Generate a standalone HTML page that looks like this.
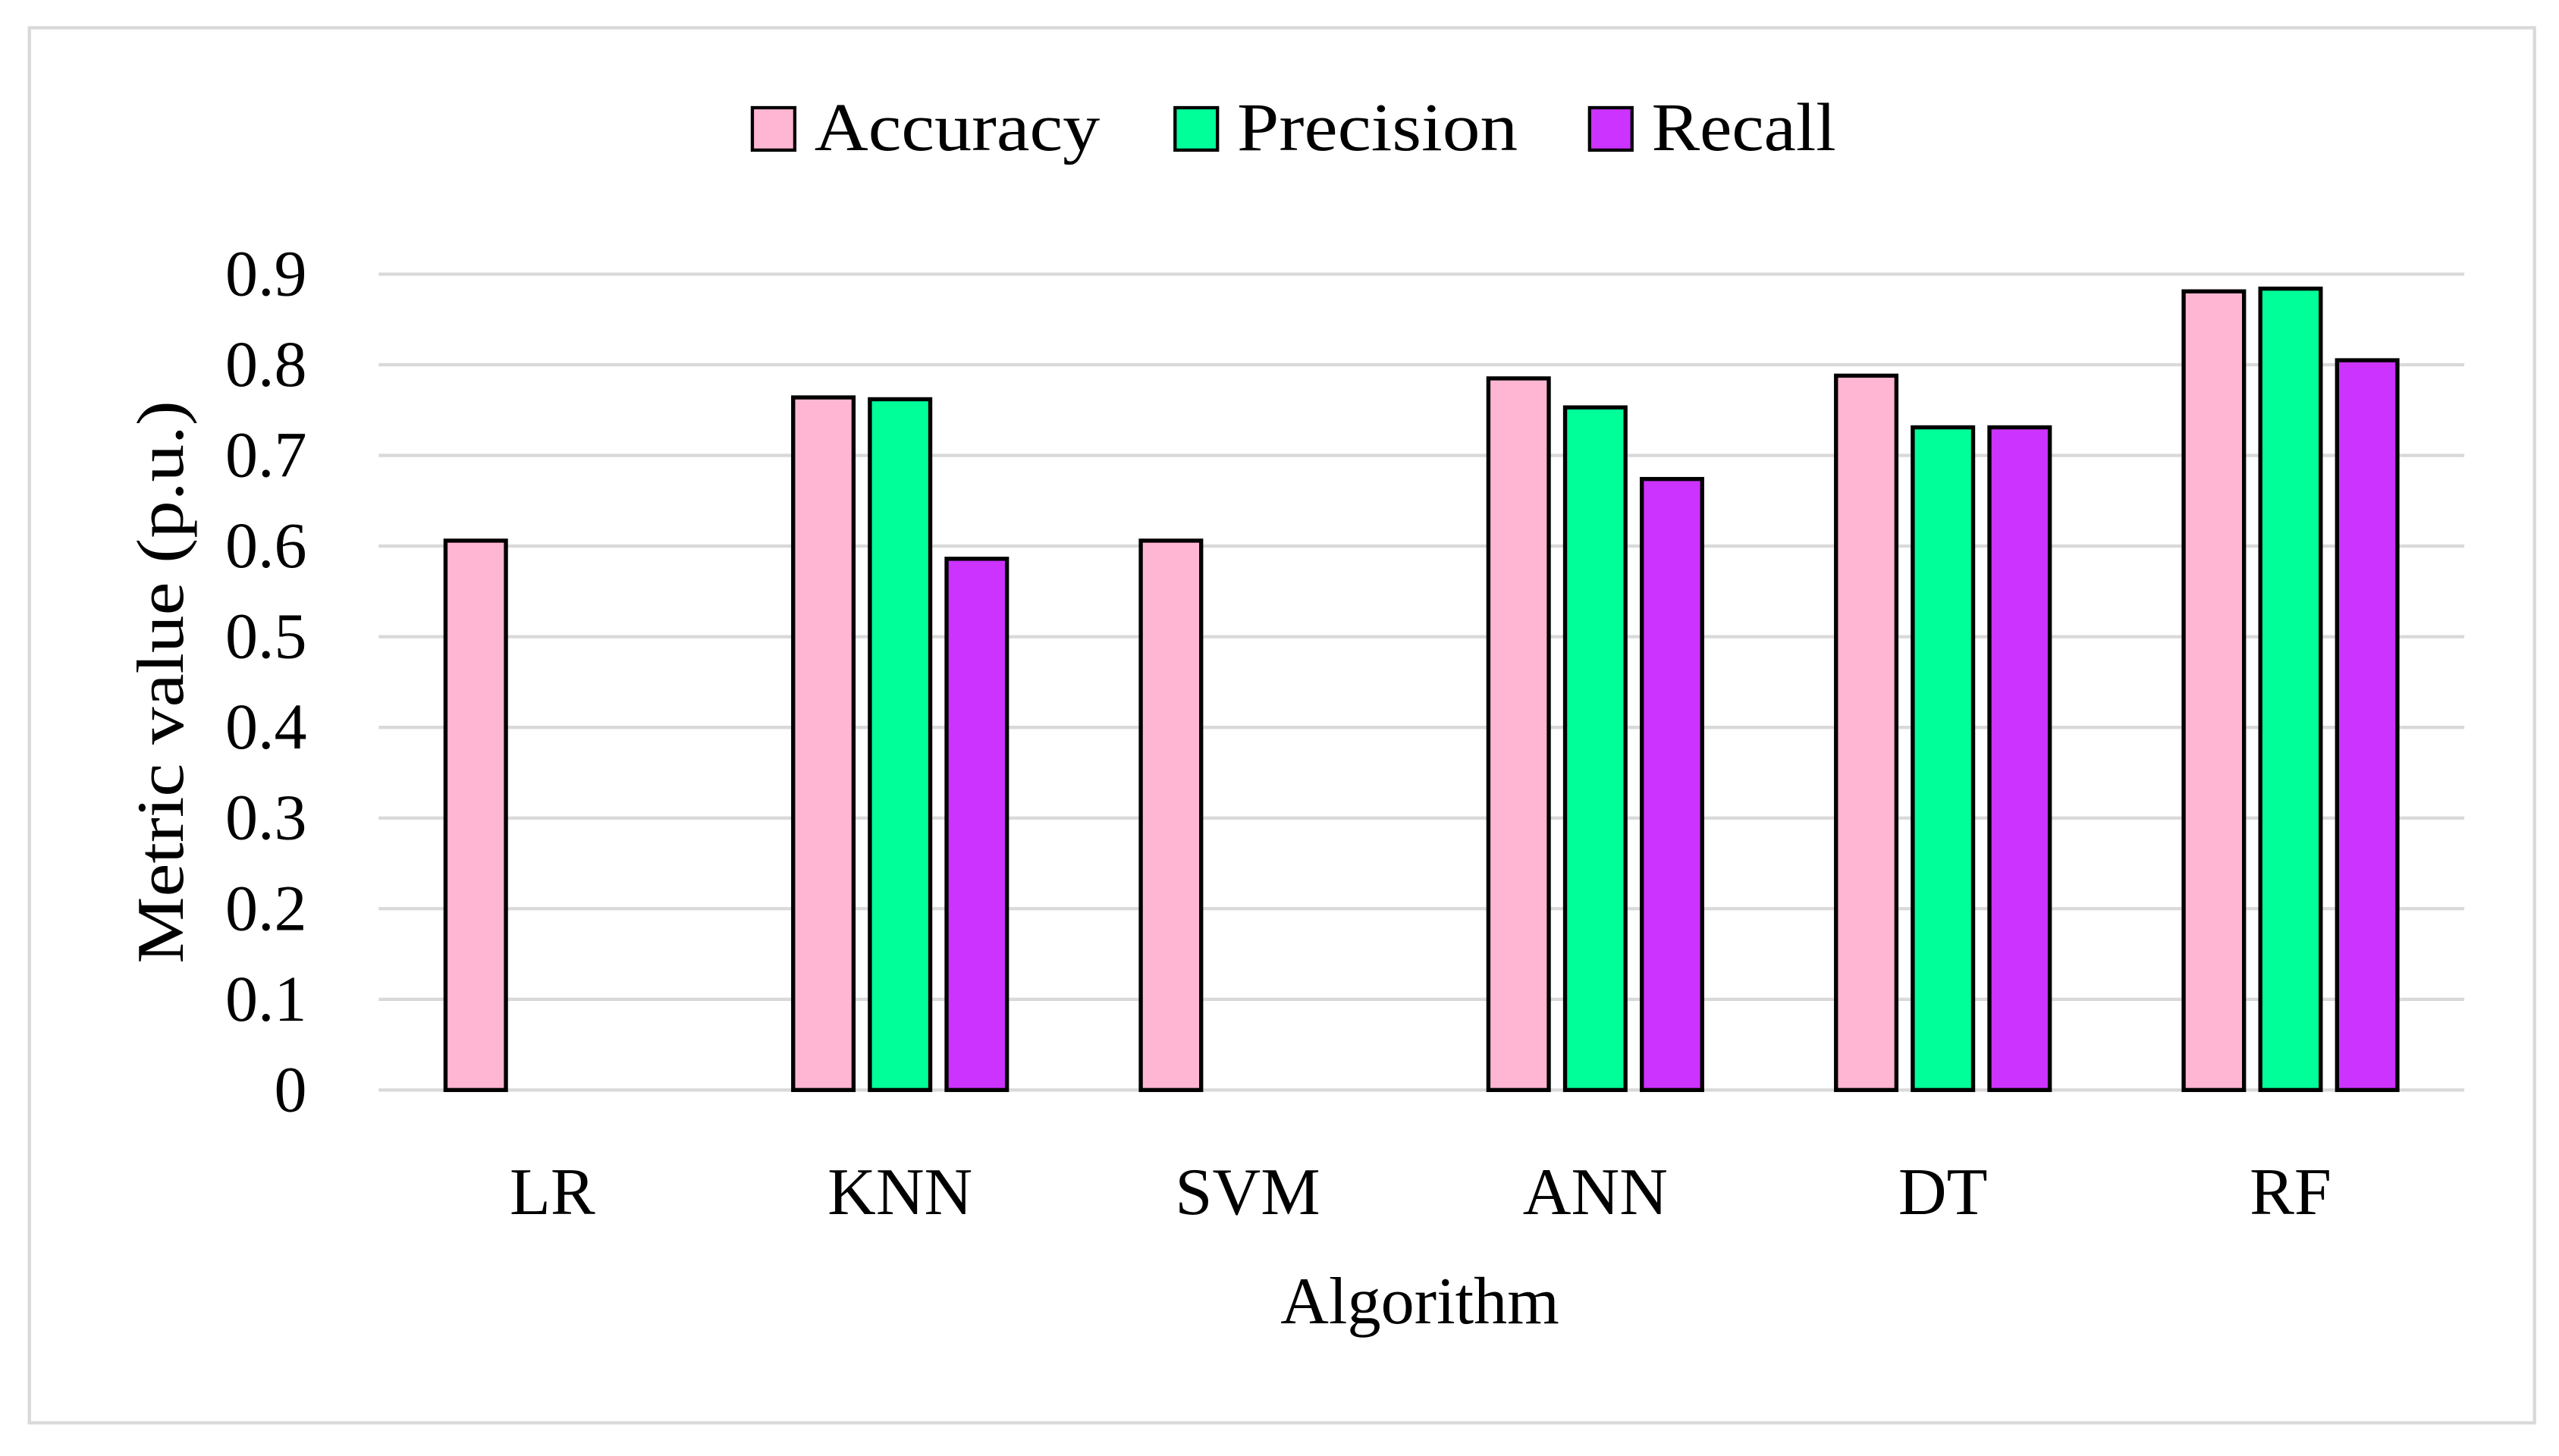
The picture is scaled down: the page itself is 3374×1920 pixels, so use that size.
<!DOCTYPE html>
<html><head><meta charset="utf-8"><style>
html,body{margin:0;padding:0;background:#fff;}
svg{display:block;}
text{font-family:"Liberation Serif",serif;fill:#000;}
</style></head><body>
<svg id="chart" width="3374" height="1920" viewBox="0 0 1568 892.3" preserveAspectRatio="none" xmlns="http://www.w3.org/2000/svg">
<rect x="18" y="17" width="1535" height="855" fill="#fff" stroke="#d9d9d9" stroke-width="2"/>
<g id="grid"></g>
<g id="yticks"></g>
<g id="bars"></g>
<g id="xlabels"></g>
<text transform="translate(112,418) rotate(-90)" text-anchor="middle" font-size="41" textLength="345" lengthAdjust="spacingAndGlyphs">Metric value (p.u.)</text>
<text x="870" y="811" text-anchor="middle" font-size="41">Algorithm</text>
<g id="legend"></g>
</svg>
<script>
const categories = ["LR","KNN","SVM","ANN","DT","RF"];
const seriesNames = ["Accuracy","Precision","Recall"];
const accuracy = [0.606, 0.764, 0.606, 0.785, 0.788, 0.881];
const precision = [null, 0.762, null, 0.753, 0.731, 0.884];
const recall = [null, 0.586, null, 0.674, 0.731, 0.805];
const yTicks = [0,0.1,0.2,0.3,0.4,0.5,0.6,0.7,0.8,0.9];
const yTickLabels = ["0","0.1","0.2","0.3","0.4","0.5","0.6","0.7","0.8","0.9"];

const NS = "http://www.w3.org/2000/svg";
const colors = ["#FFB6D2","#00FF99","#CC33FF"];
const plotL = 232, plotR = 1510, y0 = 668, y09 = 168;
function yScale(v){ return y0 - (v/0.9)*(y0-y09); }
const groupW = (plotR-plotL)/categories.length;
function xCenter(i){ return plotL + groupW*(i+0.5); }
const barW = 37, barStep = 47;
function mk(tag, attrs, parent){ const e=document.createElementNS(NS,tag); for(const k in attrs) e.setAttribute(k,attrs[k]); parent.appendChild(e); return e; }

const grid=document.getElementById('grid'), yt=document.getElementById('yticks');
yTicks.forEach((t,i)=>{
  const l=mk('line',{x1:plotL,x2:plotR,y1:yScale(t),y2:yScale(t),stroke:'#d9d9d9','stroke-width':2},grid);
  
  
  const tx=mk('text',{x:188,y:yScale(t)+13,'text-anchor':'end','font-size':40},yt);
  tx.textContent=yTickLabels[i];
  
  
});

const series=[accuracy,precision,recall];
const bars=document.getElementById('bars'), xl=document.getElementById('xlabels');
categories.forEach((c,i)=>{
  series.forEach((s,j)=>{
    const v=s[i]; if(v===null||v===undefined) return;
    const cx=xCenter(i)+(j-1)*barStep;
    const r=mk('rect',{x:cx-barW/2,y:yScale(v),width:barW,height:y0-yScale(v),fill:colors[j],stroke:'#000','stroke-width':2.5},bars);
    
    
  });
  const t=mk('text',{x:xCenter(i),y:744,'text-anchor':'middle','font-size':41},xl);
  t.textContent=c;
  
  
});

const lg=document.getElementById('legend');
const legX=[461,720,974];
const legW=[175,172,113];
seriesNames.forEach((n,j)=>{
  const g=mk('g',{},lg);
  
  
  mk('rect',{x:legX[j],y:66,width:26,height:26,fill:colors[j],stroke:'#000','stroke-width':2},g);
  const t=mk('text',{x:legX[j]+38,y:92,'font-size':42,textLength:legW[j],lengthAdjust:'spacingAndGlyphs'},g);
  t.textContent=n;
});
</script>
</body></html>
